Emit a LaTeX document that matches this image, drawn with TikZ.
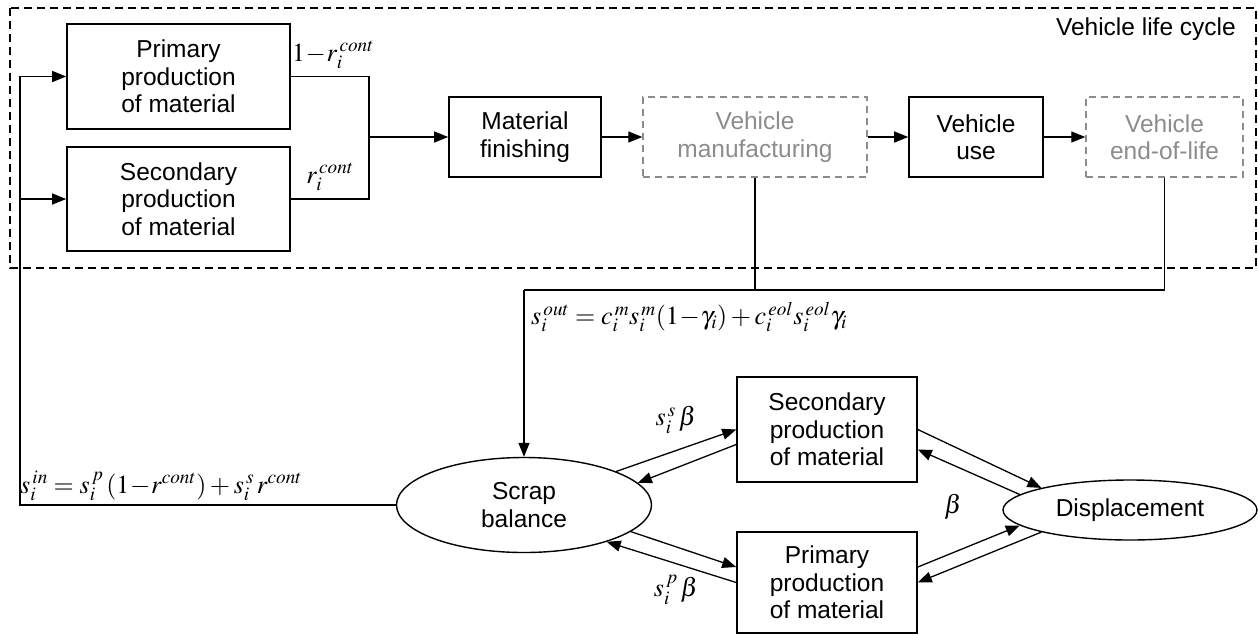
\documentclass[tikz,border=0pt]{standalone}
\usepackage{mathptmx}
\usepackage[no-math]{fontspec}
\setmainfont{Liberation Sans}
\usetikzlibrary{arrows.meta,shapes.geometric}
\definecolor{boxgray}{HTML}{8C8C8C}
\begin{document}
\begin{tikzpicture}[x=1pt,y=-1pt,
  every node/.style={font=\fontsize{24.5}{27.5}\selectfont, inner sep=0pt},
  box/.style={draw, line width=1.6pt, align=center, minimum width=#1},
  graybox/.style={draw=boxgray, text=boxgray, dash pattern=on 7pt off 5pt, line width=1.4pt, align=center, minimum width=#1, minimum height=80pt},
  oval/.style={draw, line width=1.4pt, ellipse, align=center},
  conn/.style={line width=1.3pt},
  arr/.style={conn, -{Triangle[length=14pt,width=11pt]}},
  lab/.style={font=\fontsize{26}{28}\selectfont},
]
\useasboundingbox (0,0) rectangle (1258,635);
\draw[line width=1.3pt, dash pattern=on 8pt off 5pt] (10,8) rectangle (1256,268);
\node[anchor=north east] (title) at (1236,18) {Vehicle life cycle};

\node[box=223pt, minimum height=105pt] (pp) at (178.5,76.5) {Primary\\production\\of material};
\node[box=223pt, minimum height=104pt] (sp) at (178.5,199) {Secondary\\production\\of material};
\node[box=152pt, minimum height=80pt] (mf) at (525,137) {Material\\finishing};
\node[graybox=224pt] (vm) at (755,137) {Vehicle\\manufacturing};
\node[box=134pt, minimum height=80pt] (vu) at (976,137) {Vehicle\\use};
\node[graybox=157pt] (veol) at (1164.5,137) {Vehicle\\end-of-life};

\node[oval, minimum width=255pt, minimum height=95pt] (sb) at (524,505) {Scrap\\balance};
\node[box=180pt, minimum height=105pt] (sp2) at (827,429.5) {Secondary\\production\\of material};
\node[box=180pt, minimum height=101pt] (pp2) at (827,582.5) {Primary\\production\\of material};
\node[oval, minimum width=254pt, minimum height=60pt] (disp) at (1130,510) {Displacement};

% top merge
\coordinate (m1) at (369,76.5);
\coordinate (m2) at (369,199);
\coordinate (mj) at (369,137);
\draw[conn] (pp.east) -- (m1) -- (m2) -- (sp.east);
\draw[arr] (mj) -- (mf.west);
\draw[arr] (mf.east) -- (vm.west);
\draw[arr] (vm.east) -- (vu.west);
\draw[arr] (vu.east) -- (veol.west);

% scrap flows down
\coordinate (h1) at (755,290);
\coordinate (h2) at (1164.5,290);
\coordinate (h0) at (524,290);
\draw[conn] (vm.south) -- (h1);
\draw[conn] (veol.south) -- (h2) -- (h0);
\draw[arr] (h0) -- (sb.north);

% return loop
\coordinate (l0) at (20,505);
\coordinate (l2) at (20,199);
\draw[arr] (sb.west) -- (l0) |- (pp.west);
\draw[arr] (l2) -- (sp.west);

% scrap balance <-> production
\draw[arr] (sb.20) -- (sp2.west);
\draw[arr] ([yshift=-15pt]sp2.west) -- (sb.11);
\draw[arr] (sb.-14) -- ([yshift=15.5pt]pp2.west);
\draw[arr] (pp2.west) -- (sb.-24);

% production <-> displacement
\draw[arr] (sp2.east) -- (disp.166);
\draw[arr] (disp.172) -- ([yshift=-20pt]sp2.east);
\draw[arr] ([yshift=15.5pt]pp2.east) -- (disp.188);
\draw[arr] (disp.194) -- (pp2.east);

% labels
\node[lab] (l1) at (333,55) {$1\!-\!r_i^{\,cont}$};
\node[lab] (l2t) at (330,177) {$r_i^{\,cont}$};
\node[lab, anchor=west] (sout) at (531,317) {$s_i^{\,out}=c_i^{\,m}s_i^{\,m}(1\!-\!\gamma_i)+c_i^{\,eol}s_i^{\,eol}\gamma_i$};
\node[lab, anchor=west] (sin) at (20,486) {$s_i^{\,in}=s_i^{\,p}\,(1\!-\!r^{cont})+s_i^{\,s}\,r^{cont}$};
\node[lab] (bs) at (676,420) {$s_i^{\,s}\,\beta$};
\node[lab] (bp) at (676,590) {$s_i^{\,p}\,\beta$};
\node[lab] (b) at (953,507) {$\beta$};
\end{tikzpicture}
\end{document}
